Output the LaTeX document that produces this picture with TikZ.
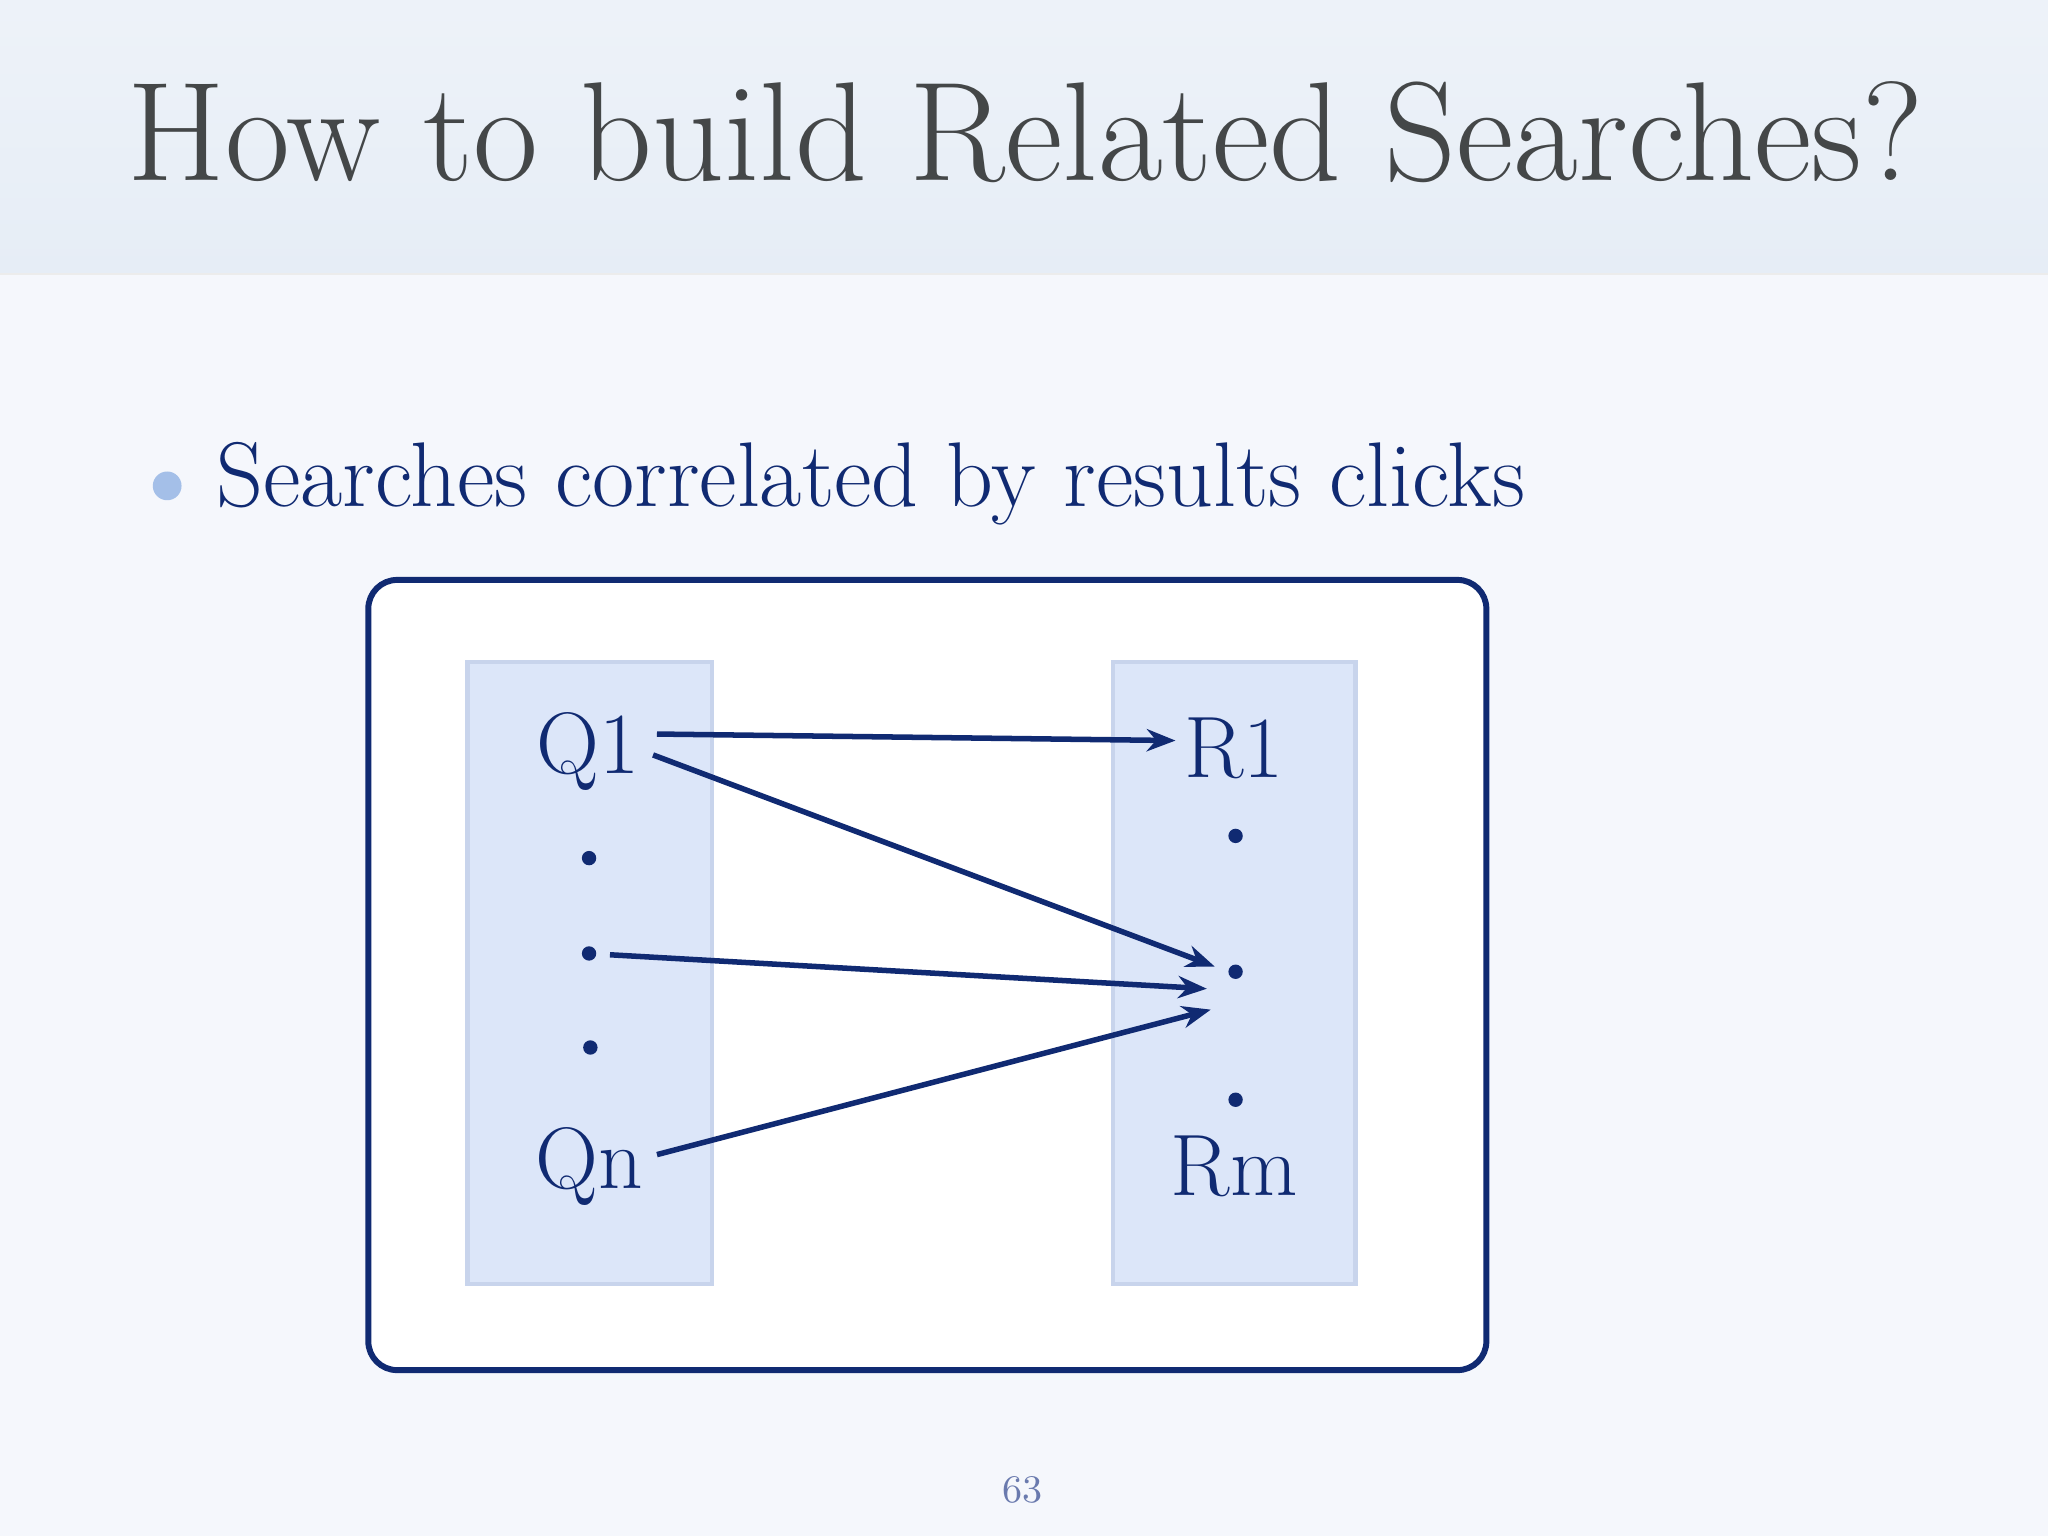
\documentclass[tikz,border=0pt]{standalone}
\usetikzlibrary{arrows.meta}
\definecolor{navy}{HTML}{102A72}
\definecolor{colfill}{HTML}{DCE6F9}
\definecolor{colline}{HTML}{C8D4EC}
\definecolor{bg}{HTML}{F5F7FC}
\definecolor{band}{HTML}{E6EDF6}
\definecolor{titlec}{HTML}{444748}
\definecolor{bulc}{HTML}{A4BFE8}
\definecolor{pgc}{HTML}{6A7AAE}
\tikzset{
 lbl/.style={text=navy,font=\fontsize{19}{19}\selectfont,inner sep=0pt},
 dotn/.style={circle,fill=navy,inner sep=0pt,minimum size=0.11cm},
 arr/.style={draw=navy,line width=1.2pt,-{Stealth[length=0.22cm,width=0.17cm]}},
 col/.style={draw=colline,fill=colfill,line width=1pt}
}
\begin{document}
\begin{tikzpicture}[x=0.01cm,y=-0.01cm]
\useasboundingbox (0,0) rectangle (1568,1176);
\fill[bg] (0,0) rectangle (1568,1176);
\fill[top color=band!70!white,bottom color=band] (0,0) rectangle (1568,210);
\draw[white!85!gray] (0,210) -- (1568,210);
\node[anchor=base west,text=titlec,font=\fontsize{30.7}{31}\selectfont,inner sep=0pt] (title) at (97,138) {How to build Related Searches?};
\node[circle,fill=bulc,inner sep=0pt,minimum size=0.22cm] (bul) at (128,372) {};
\node[anchor=base west,text=navy,font=\fontsize{20}{20}\selectfont,inner sep=0pt] (bt) at (165,388) {Searches correlated by results clicks};
\draw[navy,fill=white,line width=1.3pt,rounded corners=0.22cm] (282,444) rectangle (1138,1049);
\draw[col] (358,507) rectangle (545,983);
\draw[col] (852,507) rectangle (1038,983);
\node[lbl] (q1) at (450,575) {Q1};
\node[dotn] (qd1) at (451,657) {};
\node[dotn] (qd2) at (451,730) {};
\node[dotn] (qd3) at (452,802) {};
\node[lbl] (qn) at (451,893) {Qn};
\node[lbl] (r1) at (945,573) {R1};
\node[dotn] (rd1) at (946,640) {};
\node[dotn] (rd2) at (946,744) {};
\node[dotn] (rd3) at (946,842) {};
\node[lbl] (rm) at (945,893) {Rm};
\coordinate (a1s) at (503,562); \coordinate (a1e) at (900,567);
\coordinate (a2s) at (500,578); \coordinate (a2e) at (930,740);
\coordinate (a3s) at (467,731); \coordinate (a3e) at (924,757);
\coordinate (a4s) at (503,884); \coordinate (a4e) at (927,773);
\draw[arr] (a1s) -- (a1e);
\draw[arr] (a2s) -- (a2e);
\draw[arr] (a3s) -- (a3e);
\draw[arr] (a4s) -- (a4e);
\node[text=pgc,font=\fontsize{8.5}{9}\selectfont] (pg) at (783,1141) {63};
\end{tikzpicture}
\end{document}
